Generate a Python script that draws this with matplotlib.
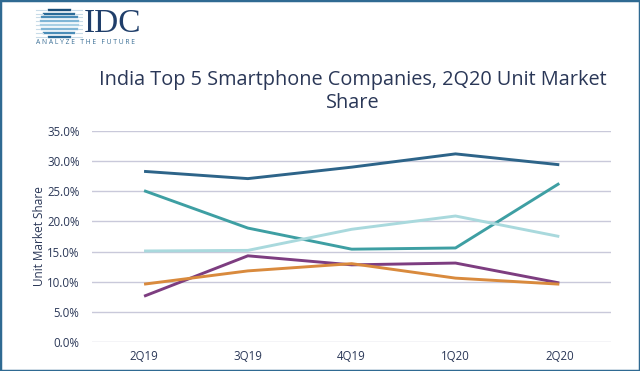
import matplotlib.pyplot as plt
import numpy as np
from matplotlib.patches import Rectangle

quarters = ['2Q19', '3Q19', '4Q19', '1Q20', '2Q20']
xiaomi = [28.3, 27.1, 29.0, 31.2, 29.4]
vivo = [25.1, 18.9, 15.4, 15.6, 26.3]
samsung = [15.1, 15.2, 18.7, 20.9, 17.5]
realme = [7.6, 14.3, 12.8, 13.1, 9.8]
oppo = [9.6, 11.8, 13.0, 10.6, 9.6]
yticks = [0, 5, 10, 15, 20, 25, 30, 35]

series = [xiaomi, vivo, samsung, realme, oppo]
colors = ['#2d6489', '#3e9fa3', '#a9d9dd', '#7d3d80', '#d98a3d']

plt.rcParams['font.family'] = ['Open Sans', 'DejaVu Sans']
text_color = '#2a3757'

fig = plt.figure(figsize=(6.4, 3.71), dpi=100)
fig.patch.set_facecolor('white')

ax = fig.add_axes([0.144, 0.078, 0.811, 0.569])
x = np.arange(len(quarters))
for vals, c in zip(series, colors):
    ax.plot(x, vals, color=c, linewidth=2.1, solid_capstyle='butt', zorder=3)

ax.set_xlim(-0.5, len(quarters) - 0.5)
ax.set_ylim(0, 35)
ax.set_yticks(yticks)
ax.set_yticklabels([f'{v:.1f}%' for v in yticks])
ax.set_xticks(x)
ax.set_xticklabels(quarters)
ax.grid(axis='y', color='#c9c9da', linewidth=1.0)
ax.set_axisbelow(True)
for s in ax.spines.values():
    s.set_visible(False)
ax.tick_params(length=0, labelsize=8.3, colors=text_color, pad=6)
ax.tick_params(axis='y', pad=9)
ax.set_ylabel('Unit Market Share', fontsize=8.5, color=text_color, labelpad=1)

fig.text(0.551, 0.785, 'India Top 5 Smartphone Companies, 2Q20 Unit Market',
         ha='center', va='center', fontsize=14.3, color=text_color)
fig.text(0.551, 0.722, 'Share', ha='center', va='center', fontsize=14.3,
         color=text_color)

# logo
lax = fig.add_axes([0.055, 0.895, 0.075, 0.085])
lax.set_xlim(-1.3, 1.3)
lax.set_ylim(-1, 1)
lax.axis('off')
stripe_colors = ['#1a4f7a', '#2a6b98', '#4a8db8', '#7fb5d5', '#a8cfe4',
                 '#7fb5d5', '#4a8db8', '#2a6b98']
ys = np.linspace(0.85, -0.85, 8)
for yy, sc in zip(ys, stripe_colors):
    half = np.sqrt(max(1 - yy ** 2, 0)) * 0.9 + 0.1
    lax.plot([-half, half], [yy, yy], color=sc, linewidth=1.7)
    lax.plot([-1.25, -half - 0.08], [yy, yy], color='#c8dbe8', linewidth=0.8)
    lax.plot([half + 0.08, 1.25], [yy, yy], color='#c8dbe8', linewidth=0.8)
fig.text(0.131, 0.937, 'IDC', ha='left', va='center', fontsize=24,
         family=['Liberation Serif', 'DejaVu Serif'], color='#1f3e6a')
fig.text(0.057, 0.885, 'A N A L Y Z E   T H E   F U T U R E', ha='left',
         va='center', fontsize=4.9, color='#3b6f96')

# frame
fig.patches.append(Rectangle((0, 0), 1, 1, transform=fig.transFigure,
                             fill=False, edgecolor='#2f6a92', linewidth=2.5))

fig.savefig('out.png', dpi=100)
